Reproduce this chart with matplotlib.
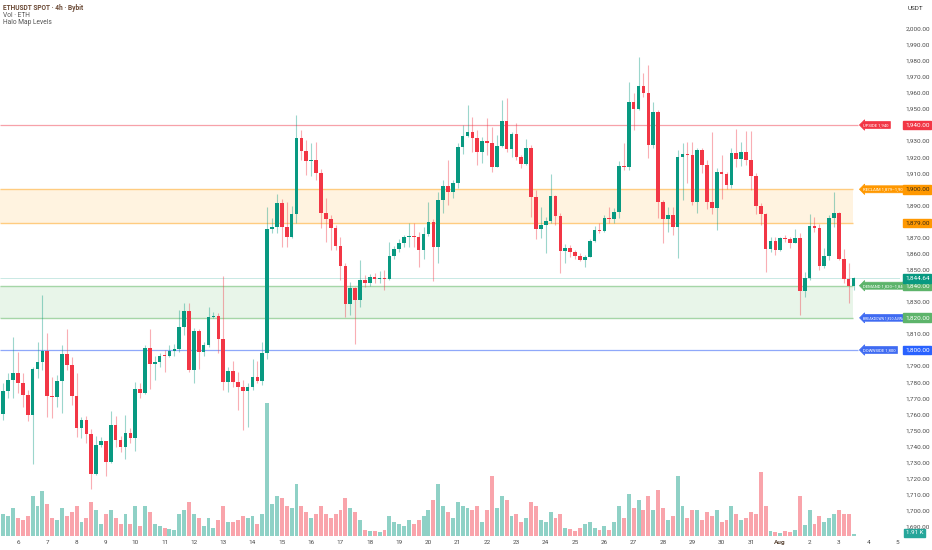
import matplotlib
matplotlib.use('Agg')
import matplotlib.pyplot as plt
import matplotlib.transforms as mtransforms
from matplotlib.patches import Rectangle
import numpy as np

plt.rcParams['font.family'] = ['Roboto', 'DejaVu Sans']

# ---------------- data (ETHUSDT 4h) ----------------
opens = [1771.0, 1760.2, 1774.7, 1781.3, 1785.7, 1779.7, 1772.0, 1759.3, 1788.2, 1792.7,
         1799.6, 1771.4, 1771.0, 1780.7, 1797.5, 1790.7, 1771.4, 1751.5, 1756.6, 1748.0,
         1722.8, 1741.1, 1743.2, 1730.5, 1753.3, 1744.0, 1739.4, 1748.4, 1745.0, 1775.9,
         1773.4, 1801.0, 1791.3, 1792.5, 1796.5, 1796.1, 1799.6, 1800.4, 1814.5, 1824.5,
         1787.6, 1811.6, 1798.7, 1803.1, 1820.7, 1821.4, 1806.6, 1780.3, 1787.1, 1780.3,
         1776.8, 1774.7, 1776.8, 1783.4, 1780.9, 1797.9, 1875.1, 1876.7, 1891.7, 1876.7,
         1870.1, 1884.6, 1931.7, 1924.0, 1917.8, 1918.2, 1910.4, 1885.0, 1881.5, 1875.7,
         1864.7, 1852.5, 1828.4, 1838.8, 1831.1, 1843.6, 1841.9, 1845.6, 1844.2, 1845.0,
         1844.0, 1858.5, 1862.6, 1866.8, 1870.1, 1870.9, 1870.5, 1862.2, 1872.0, 1879.6,
         1863.9, 1893.3, 1902.0, 1898.5, 1904.1, 1926.5, 1933.4, 1935.5, 1931.7, 1923.4,
         1930.1, 1928.6, 1914.1, 1927.2, 1942.5, 1924.9, 1934.2, 1920.3, 1915.7, 1925.5,
         1895.0, 1875.3, 1877.8, 1880.5, 1895.8, 1883.4, 1861.8, 1863.7, 1861.2, 1858.5,
         1856.0, 1857.9, 1868.0, 1874.7, 1874.3, 1881.9, 1881.5, 1885.9, 1914.5, 1914.1,
         1954.5, 1949.8, 1964.5, 1959.7, 1927.6, 1948.3, 1892.3, 1881.3, 1884.0, 1876.7,
         1919.9, 1922.0, 1921.5, 1892.3, 1924.5, 1915.1, 1892.3, 1888.6, 1910.6, 1909.5,
         1902.7, 1922.8, 1918.8, 1923.4, 1918.2, 1908.5, 1889.8, 1884.4, 1862.6, 1868.0,
         1862.2, 1869.5, 1868.9, 1866.8, 1869.9, 1836.9, 1844.6, 1877.2, 1875.7, 1852.3,
         1858.5, 1881.9, 1885.0, 1856.6, 1844.0, 1839.8]

highs = [1772.5, 1779.2, 1785.5, 1808.3, 1799.0, 1785.5, 1775.1, 1789.6, 1805.2, 1834.2,
         1810.4, 1783.4, 1784.4, 1803.1, 1812.9, 1795.9, 1785.5, 1758.5, 1758.9, 1750.6,
         1746.5, 1746.1, 1743.6, 1762.2, 1758.9, 1746.5, 1759.3, 1751.3, 1779.9, 1779.2,
         1803.1, 1812.9, 1796.2, 1798.3, 1799.8, 1803.1, 1803.7, 1824.9, 1829.5, 1829.5,
         1813.5, 1813.3, 1805.2, 1826.9, 1823.9, 1822.8, 1846.3, 1789.6, 1793.2, 1786.5,
         1781.3, 1779.2, 1794.4, 1793.2, 1804.8, 1889.2, 1881.9, 1897.1, 1893.8, 1892.1,
         1889.6, 1946.2, 1936.9, 1930.7, 1928.6, 1929.6, 1912.4, 1894.4, 1884.0, 1877.8,
         1870.5, 1853.9, 1842.5, 1839.4, 1856.0, 1846.7, 1847.3, 1847.7, 1849.4, 1849.8,
         1867.4, 1864.7, 1868.9, 1871.6, 1879.2, 1878.8, 1873.6, 1876.7, 1892.3, 1881.3,
         1898.0, 1905.8, 1918.2, 1905.8, 1928.6, 1940.0, 1952.5, 1945.2, 1936.9, 1932.8,
         1944.2, 1939.0, 1933.8, 1955.6, 1956.6, 1935.9, 1941.1, 1921.3, 1931.1, 1927.6,
         1899.6, 1889.2, 1883.0, 1909.5, 1896.5, 1885.0, 1866.0, 1865.3, 1862.2, 1860.2,
         1859.1, 1868.9, 1877.2, 1879.2, 1884.0, 1888.8, 1888.2, 1917.8, 1928.6, 1967.0,
         1959.7, 1982.1, 1972.2, 1977.3, 1954.5, 1949.4, 1893.3, 1889.2, 1889.2, 1924.5,
         1928.6, 1929.6, 1929.6, 1925.5, 1925.5, 1918.2, 1935.9, 1913.0, 1921.3, 1911.0,
         1925.9, 1937.3, 1929.6, 1936.5, 1936.3, 1909.9, 1891.3, 1885.0, 1870.5, 1870.5,
         1870.5, 1871.6, 1870.1, 1875.1, 1873.0, 1848.7, 1884.6, 1883.0, 1878.4, 1863.3,
         1884.0, 1898.5, 1885.7, 1862.6, 1853.9, 1845.2]

lows = [1757.0, 1756.4, 1769.9, 1769.9, 1773.4, 1764.7, 1755.8, 1728.9, 1782.4, 1787.6,
        1758.5, 1757.9, 1764.7, 1761.0, 1787.6, 1765.8, 1746.1, 1745.0, 1741.9, 1713.3,
        1722.2, 1739.8, 1721.8, 1729.5, 1739.8, 1736.7, 1732.0, 1741.9, 1737.4, 1769.9,
        1772.6, 1775.7, 1781.3, 1789.6, 1786.5, 1795.4, 1796.2, 1799.0, 1809.3, 1786.0,
        1779.7, 1787.9, 1796.2, 1802.1, 1820.2, 1798.3, 1775.1, 1774.1, 1777.2, 1762.7,
        1750.2, 1752.3, 1775.1, 1779.3, 1778.2, 1794.2, 1872.6, 1872.6, 1864.3, 1864.3,
        1869.9, 1878.8, 1918.2, 1908.9, 1908.3, 1905.8, 1875.7, 1867.4, 1862.2, 1862.2,
        1843.6, 1820.8, 1821.8, 1803.5, 1826.9, 1839.4, 1839.8, 1841.9, 1841.5, 1837.3,
        1843.6, 1856.4, 1861.2, 1864.3, 1864.3, 1864.3, 1851.9, 1856.4, 1870.9, 1843.1,
        1853.9, 1885.0, 1890.2, 1894.4, 1900.6, 1922.0, 1932.8, 1923.4, 1915.1, 1916.6,
        1921.3, 1911.0, 1913.7, 1926.5, 1923.4, 1920.3, 1918.2, 1913.0, 1915.1, 1883.0,
        1868.9, 1869.5, 1860.2, 1878.8, 1877.8, 1848.1, 1853.9, 1857.7, 1856.4, 1855.6,
        1851.4, 1857.7, 1867.4, 1872.6, 1873.6, 1878.8, 1878.8, 1881.9, 1912.0, 1912.0,
        1936.9, 1949.4, 1957.7, 1919.3, 1925.5, 1882.0, 1866.4, 1873.6, 1871.6, 1857.0,
        1893.3, 1903.7, 1890.2, 1885.0, 1909.9, 1887.5, 1884.6, 1874.7, 1893.8, 1900.0,
        1900.6, 1914.1, 1914.5, 1915.1, 1899.6, 1884.4, 1877.8, 1848.7, 1861.2, 1859.1,
        1861.8, 1867.4, 1863.3, 1866.4, 1821.8, 1833.2, 1843.6, 1873.6, 1849.8, 1850.8,
        1856.0, 1876.7, 1856.0, 1841.5, 1829.0, 1837.3]

closes = [1760.2, 1774.7, 1781.3, 1785.7, 1779.7, 1772.0, 1759.3, 1788.2, 1792.7, 1799.6,
          1771.4, 1771.0, 1780.7, 1797.5, 1790.7, 1771.4, 1751.5, 1756.6, 1748.0, 1722.8,
          1741.1, 1743.2, 1730.5, 1753.3, 1744.0, 1739.4, 1748.4, 1745.0, 1775.9, 1773.4,
          1801.0, 1791.3, 1792.5, 1796.5, 1796.1, 1799.6, 1800.4, 1814.5, 1824.5, 1787.6,
          1811.6, 1798.7, 1803.1, 1820.7, 1821.4, 1806.6, 1780.3, 1787.1, 1780.3, 1776.8,
          1774.7, 1776.8, 1783.4, 1780.9, 1797.9, 1875.1, 1876.7, 1891.7, 1876.7, 1870.1,
          1884.6, 1931.7, 1924.0, 1917.8, 1918.2, 1910.4, 1885.0, 1881.5, 1875.7, 1864.7,
          1852.5, 1828.4, 1838.8, 1831.1, 1843.6, 1841.9, 1845.6, 1844.2, 1845.0, 1844.0,
          1858.5, 1862.6, 1866.8, 1870.1, 1870.9, 1870.5, 1862.2, 1872.0, 1879.6, 1863.9,
          1893.3, 1902.0, 1898.5, 1904.1, 1926.5, 1933.4, 1935.5, 1931.7, 1923.4, 1930.1,
          1928.6, 1914.1, 1927.2, 1942.5, 1924.9, 1934.2, 1920.3, 1915.7, 1925.5, 1895.0,
          1875.3, 1877.8, 1880.5, 1895.8, 1883.4, 1861.8, 1863.7, 1861.2, 1858.5, 1856.0,
          1857.9, 1868.0, 1874.7, 1874.3, 1881.9, 1881.5, 1885.9, 1914.5, 1914.1, 1954.5,
          1949.8, 1964.5, 1959.7, 1927.6, 1948.3, 1892.3, 1881.3, 1884.0, 1876.7, 1919.9,
          1922.0, 1921.5, 1892.3, 1924.5, 1915.1, 1892.3, 1888.6, 1910.6, 1909.5, 1902.7,
          1922.8, 1918.8, 1923.4, 1918.2, 1908.5, 1889.8, 1884.4, 1862.6, 1868.0, 1862.2,
          1869.5, 1868.9, 1866.8, 1869.9, 1836.9, 1844.6, 1877.2, 1875.7, 1852.3, 1858.5,
          1881.9, 1885.0, 1856.6, 1844.0, 1839.8, 1844.64]

volumes_k = [22, 22, 20, 28, 18, 16, 20, 40, 30, 45,
             32, 18, 16, 28, 20, 24, 30, 14, 18, 34,
             26, 12, 22, 26, 18, 12, 22, 12, 30, 10,
             30, 24, 12, 10, 8, 7, 6, 22, 26, 34,
             22, 18, 10, 18, 8, 16, 30, 14, 14, 16,
             20, 18, 20, 12, 22, 133, 32, 40, 38, 30,
             28, 52, 30, 24, 18, 22, 30, 22, 18, 22,
             26, 38, 28, 24, 16, 6, 5, 5, 4, 6,
             20, 14, 12, 10, 16, 12, 16, 20, 26, 36,
             52, 30, 24, 18, 34, 30, 28, 26, 30, 14,
             26, 60, 28, 40, 36, 20, 22, 14, 18, 34,
             30, 16, 14, 24, 18, 22, 8, 7, 5, 8,
             12, 14, 8, 6, 10, 6, 14, 30, 18, 42,
             28, 36, 26, 40, 26, 46, 28, 16, 20, 60,
             30, 18, 26, 26, 16, 24, 20, 26, 14, 16,
             30, 22, 16, 18, 24, 22, 64, 30, 5, 4,
             3, 5, 4, 6, 40, 11, 26, 12, 20, 14,
             18, 22, 26, 22, 22, 1.91]

day_labels = ['6', '7', '8', '9', '10', '11', '12', '13', '14', '15', '16', '17', '18',
              '19', '20', '21', '22', '23', '24', '25', '26', '27', '28', '29', '30', '31',
              'Aug', '2', '3', '4', '5']

upside_level = 1940
reclaim_zone = (1879, 1900)
demand_zone = (1820, 1840)
breakdown_level = 1820
downside_level = 1800
last_price = 1844.64
last_volume_label = '1.91 K'

# ---------------- styling ----------------
GREEN = '#089981'
RED = '#F23645'
ORANGE = '#FF9800'
BLUE = '#2962FF'
ZGREEN = '#5DB46B'
TXT = '#4a4a4a'
AXFS = 4.6

fig = plt.figure(figsize=(9.32, 5.5), dpi=100)
rect = [0, 14 / 550, 900 / 932, 536 / 550]
axv = fig.add_axes(rect)
ax = fig.add_axes(rect, sharex=axv)
ax.patch.set_visible(False)

n = len(opens)
x = np.arange(n) - 1  # first candle is only partially visible
o = np.array(opens); h = np.array(highs); l = np.array(lows); c = np.array(closes)
up = c >= o

xmin, xmax = -0.675, 183.5
ax.set_xlim(xmin, xmax)
ax.set_ylim(1684.26, 2017.78)
axv.set_ylim(0, 536)

# volume
vcols = [GREEN if u else RED for u in up]
axv.bar(x, volumes_k, width=0.8, color=vcols, alpha=0.45, linewidth=0)
axv.set_axis_off()

# zones and levels
zone_end = 173.9
line_end = 174.9
tag_x = 176.0
ax.add_patch(Rectangle((xmin, reclaim_zone[0]), zone_end - xmin, reclaim_zone[1] - reclaim_zone[0],
                       facecolor='#FFF3E0', edgecolor='none', zorder=0.5))
ax.hlines(list(reclaim_zone), xmin, zone_end, colors='#FFCC80', lw=1.0, zorder=0.6)
ax.add_patch(Rectangle((xmin, demand_zone[0]), zone_end - xmin, demand_zone[1] - demand_zone[0],
                       facecolor='#E8F5E9', edgecolor='none', zorder=0.5))
ax.hlines(list(demand_zone), xmin, zone_end, colors='#A5D6A7', lw=1.0, zorder=0.6)
ax.hlines(upside_level, xmin, line_end, colors='#F7A1A9', lw=0.9, zorder=0.6)
ax.hlines(downside_level, xmin, line_end, colors='#8FA8FA', lw=0.9, zorder=0.6)
ax.hlines(last_price, xmin, xmax, colors=GREEN, lw=0.6, alpha=0.25, zorder=0.6)

# candles
wc = [GREEN if u else RED for u in up]
ax.vlines(x, l, h, colors=wc, lw=0.8, alpha=0.4, zorder=2)
body_bot = np.minimum(o, c)
body_h = np.maximum(np.abs(c - o), 0.5)
ax.bar(x, body_h, bottom=body_bot, width=0.74, color=wc, linewidth=0, zorder=3)

# tags on chart
def tag(level, text, color, tcolor='white', fs=3.1, pad=0.35):
    ax.text(tag_x, level, text, ha='left', va='center', fontsize=fs, color=tcolor,
            zorder=6, clip_on=False,
            bbox=dict(boxstyle=f'larrow,pad={pad}', fc=color, ec=color, lw=0.5))

tag(upside_level, 'UPSIDE 1,940', RED)
tag(reclaim_zone[1], 'RECLAIM 1,879–1,900', ORANGE)
tag(demand_zone[1], 'DEMAND 1,820–1,840', ZGREEN)
tag(breakdown_level, 'BREAKDOWN 1,820 AVWAP', '#3F6BF2', fs=2.5, pad=0.4)
tag(downside_level, 'DOWNSIDE 1,800', '#3F6BF2')

# price axis (ticks hidden where a coloured price label sits)
covered = {upside_level, reclaim_zone[1], 1880, demand_zone[1], breakdown_level, downside_level}
ax.yaxis.tick_right()
yt = list(range(1690, 2001, 10))
ax.set_yticks(yt)
ax.set_yticklabels(['' if v in covered else f'{v:,.2f}' for v in yt])
ax.tick_params(axis='y', length=0, pad=4, labelsize=AXFS, labelcolor=TXT)

trans = mtransforms.blended_transform_factory(ax.transAxes, ax.transData)
def plabel(level, text, color, tcolor='white'):
    ax.text(1.0055, level, text, transform=trans, ha='left', va='center', fontsize=AXFS,
            color=tcolor, zorder=8, clip_on=False,
            bbox=dict(boxstyle='square,pad=0.3', fc=color, ec=color))

plabel(upside_level, f'{upside_level:,.2f}', RED)
plabel(reclaim_zone[1], f'{reclaim_zone[1]:,.2f}', ORANGE, '#3b2a12')
plabel(reclaim_zone[0], f'{reclaim_zone[0]:,.2f}', ORANGE, '#3b2a12')
plabel(demand_zone[1], f'{demand_zone[1]:,.2f}', ZGREEN)
plabel(last_price, f'{last_price:,.2f}', GREEN)
plabel(breakdown_level, f'{breakdown_level:,.2f}', ZGREEN)
plabel(downside_level, f'{downside_level:,.2f}', BLUE)

# time axis
day_pos = [3 + 6 * i for i in range(len(day_labels))]
ax.set_xticks(day_pos)
ax.set_xticklabels(day_labels)
ax.tick_params(axis='x', length=0, pad=3, labelsize=AXFS, labelcolor=TXT)
for lab in ax.get_xticklabels():
    if lab.get_text() == 'Aug':
        lab.set_fontweight('bold')
        lab.set_color('#5a4636')

for sp in ax.spines.values():
    sp.set_visible(False)

# header texts
fig.text(3 / 932, 1 - 7.5 / 550, 'ETHUSDT SPOT · 4h · Bybit', fontsize=4.8, color='#6b4a36',
         va='center', ha='left', fontweight='bold')
fig.text(3 / 932, 1 - 15.2 / 550, 'Vol · ETH', fontsize=4.8, color='#555555', va='center', ha='left')
fig.text(3 / 932, 1 - 22.9 / 550, 'Halo Map Levels', fontsize=4.8, color='#555555', va='center', ha='left')
fig.text(908 / 932, 1 - 8 / 550, 'USDT', fontsize=4.6, color='#333333', va='center', ha='left')
fig.text(906 / 932, 1 - 533 / 550, last_volume_label, fontsize=4.4, color='white', va='center',
         ha='left', bbox=dict(boxstyle='square,pad=0.3', fc='#26a69a', ec='#26a69a'))

fig.savefig('out.png', dpi=100)
